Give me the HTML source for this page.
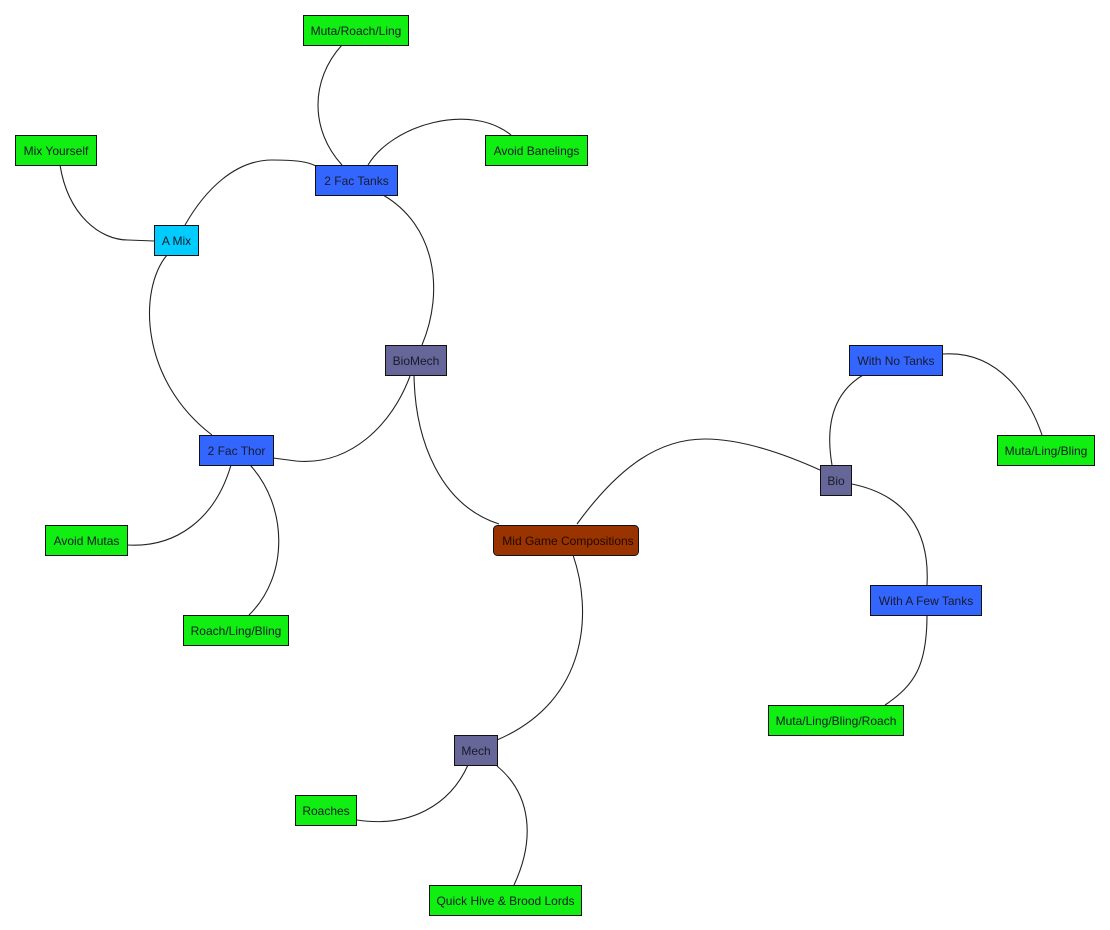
<!DOCTYPE html>
<html>
<head>
<meta charset="utf-8">
<style>
  html, body { margin:0; padding:0; background:#ffffff; }
  body { width:1110px; height:930px; overflow:hidden; }
  svg { display:block; }
  text { font-family: "Liberation Sans", Arial, sans-serif; font-size:12px; fill:#1a1a2a; }
</style>
</head>
<body>
<svg width="1110" height="930" viewBox="0 0 1110 930" xmlns="http://www.w3.org/2000/svg">
  <g fill="none" stroke="#222" stroke-width="1.1">
    <!-- Muta/Roach/Ling -> 2 Fac Tanks -->
    <path d="M342,45 C310,80 310,130 342,165"/>
    <!-- 2 Fac Tanks -> Avoid Banelings -->
    <path d="M368,165 C392,125 470,102 511,135"/>
    <!-- Mix Yourself -> A Mix -->
    <path d="M60,165 C68,215 100,240 128,240 L154,241"/>
    <!-- A Mix -> 2 Fac Tanks -->
    <path d="M185,225 C205,190 235,160 272,160 C298,160 308,162 316,166"/>
    <!-- A Mix -> 2 Fac Thor -->
    <path d="M167,255 C138,290 140,380 212,435"/>
    <!-- 2 Fac Tanks -> BioMech -->
    <path d="M383,195 C435,225 445,290 422,345"/>
    <!-- BioMech -> 2 Fac Thor -->
    <path d="M410,376 C392,425 350,466 296,461 L273,458"/>
    <!-- BioMech -> Mid Game -->
    <path d="M414,375 C415,440 440,505 499,524"/>
    <!-- Mid Game -> Bio -->
    <path d="M577,524 C620,465 660,439 705,439 C740,439 780,452 820,470"/>
    <!-- Bio -> With No Tanks -->
    <path d="M832,465 C826,430 830,395 863,375"/>
    <!-- With No Tanks -> Muta/Ling/Bling -->
    <path d="M943,354 C1000,350 1030,400 1042,435"/>
    <!-- Bio -> With A Few Tanks -->
    <path d="M852,484 C905,495 930,530 927,585"/>
    <!-- With A Few Tanks -> Muta/Ling/Bling/Roach -->
    <path d="M927,615 C927,665 915,685 885,705"/>
    <!-- Mid Game -> Mech -->
    <path d="M573,555 C592,610 590,700 497,740"/>
    <!-- Mech -> Roaches -->
    <path d="M468,765 C450,805 410,828 357,820"/>
    <!-- Mech -> Quick Hive -->
    <path d="M497,766 C532,795 535,840 514,885"/>
    <!-- 2 Fac Thor -> Avoid Mutas -->
    <path d="M231,465 C215,520 175,548 127,545"/>
    <!-- 2 Fac Thor -> Roach/Ling/Bling -->
    <path d="M250,465 C287,505 290,575 249,615"/>
  </g>

  <g stroke="#111" stroke-width="1">
    <!-- green nodes -->
    <rect x="303.5" y="15.5" width="105" height="30" fill="#11ee11"/>
    <rect x="485.5" y="135.5" width="102" height="30" fill="#11ee11"/>
    <rect x="15.5" y="135.5" width="81" height="30" fill="#11ee11"/>
    <rect x="45.5" y="525.5" width="82" height="30" fill="#11ee11"/>
    <rect x="183.5" y="615.5" width="105" height="30" fill="#11ee11"/>
    <rect x="997.5" y="435.5" width="97" height="30" fill="#11ee11"/>
    <rect x="768.5" y="705.5" width="135" height="30" fill="#11ee11"/>
    <rect x="295.5" y="795.5" width="61" height="30" fill="#11ee11"/>
    <rect x="429.5" y="885.5" width="152" height="30" fill="#11ee11"/>
    <!-- blue nodes -->
    <rect x="315.5" y="165.5" width="82" height="30" fill="#3366ff"/>
    <rect x="199.5" y="435.5" width="74" height="30" fill="#3366ff"/>
    <rect x="849.5" y="345.5" width="93" height="30" fill="#3366ff"/>
    <rect x="870.5" y="585.5" width="111" height="30" fill="#3366ff"/>
    <!-- cyan -->
    <rect x="154.5" y="225.5" width="44" height="30" fill="#00ccff"/>
    <!-- purple -->
    <rect x="385.5" y="345.5" width="61" height="30" fill="#666699"/>
    <rect x="820.5" y="465.5" width="31" height="30" fill="#666699"/>
    <rect x="454.5" y="735.5" width="43" height="30" fill="#666699"/>
    <!-- root -->
    <rect x="493.5" y="525.5" width="145" height="30" rx="4" ry="4" fill="#993300"/>
  </g>

  <g text-anchor="middle">
    <text x="356" y="35">Muta/Roach/Ling</text>
    <text x="536.5" y="155">Avoid Banelings</text>
    <text x="56" y="155">Mix Yourself</text>
    <text x="86.5" y="545">Avoid Mutas</text>
    <text x="236" y="635">Roach/Ling/Bling</text>
    <text x="1046" y="455">Muta/Ling/Bling</text>
    <text x="836" y="725">Muta/Ling/Bling/Roach</text>
    <text x="326" y="815">Roaches</text>
    <text x="505.5" y="905">Quick Hive &amp; Brood Lords</text>
    <text x="356.5" y="185">2 Fac Tanks</text>
    <text x="236.5" y="455">2 Fac Thor</text>
    <text x="896" y="365">With No Tanks</text>
    <text x="926" y="605">With A Few Tanks</text>
    <text x="176.5" y="245">A Mix</text>
    <text x="416" y="365">BioMech</text>
    <text x="836" y="485">Bio</text>
    <text x="476" y="755">Mech</text>
    <text x="568" y="545" style="fill:#220a00">Mid Game Compositions</text>
  </g>
</svg>
</body>
</html>
